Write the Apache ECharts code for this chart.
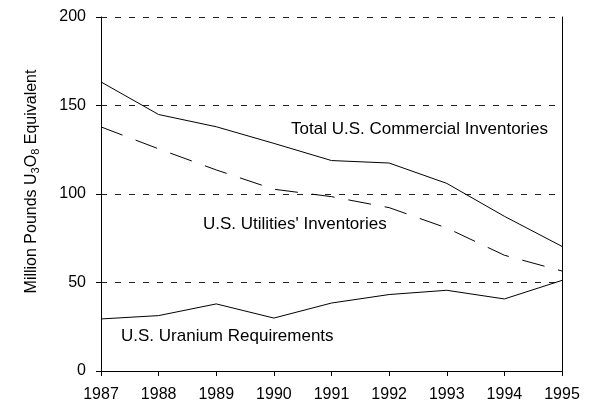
<!DOCTYPE html>
<html>
  <head>
    <meta charset="UTF-8">
    <title>Uranium inventories</title>
    <script src="https://cdn.jsdelivr.net/npm/echarts@6/dist/echarts.min.js"></script>
    <style>
      html, body { margin: 0; padding: 0; background: #fff; }
    </style>
  </head>
  <body>
    <div id="myChart" style="width: 589px;height:401px;"></div>
    <script type="text/javascript">
    var years = ['1987', '1988', '1989', '1990', '1991', '1992', '1993', '1994', '1995'];
    var totalInv = [163.3, 144.9, 138, 128.6, 118.9, 117.5, 106, 87.4, 70.4];
    var utilInv = [137.9, 125.5, 113.6, 102.7, 98.5, 92.3, 80.8, 65.4, 56.5];
    var requirements = [29.4, 31.3, 37.9, 29.9, 38.4, 43.2, 45.6, 40.7, 51.2];
    var yTicks = [0, 50, 100, 150, 200];

    var FONT = 'Arial, "Liberation Sans", sans-serif';
    var myChart = echarts.init(document.getElementById('myChart'));

    var option = {
      animation: false,
      backgroundColor: '#fff',
      grid: { left: 101, right: 27, top: 17, bottom: 30, outerBoundsMode: 'none', containLabel: false },
      xAxis: {
        type: 'category',
        data: years,
        boundaryGap: false,
        axisLine: { lineStyle: { color: '#000', width: 1 } },
        axisTick: { alignWithLabel: true, length: 5, lineStyle: { color: '#000' } },
        axisLabel: { color: '#000', fontSize: 16, fontFamily: FONT, margin: 16 },
        splitLine: { show: false }
      },
      yAxis: [{
        type: 'value',
        min: yTicks[0],
        max: yTicks[yTicks.length - 1],
        interval: 50,
        axisLine: { show: true, lineStyle: { color: '#000', width: 1 } },
        axisTick: { show: true, length: 5, lineStyle: { color: '#000' } },
        axisLabel: { color: '#000', fontSize: 16, fontFamily: FONT, margin: 15 },
        splitLine: { show: true, lineStyle: { color: '#222', type: [6, 8], width: 1 } }
      }, {
        type: 'value',
        position: 'right',
        min: yTicks[0],
        max: yTicks[yTicks.length - 1],
        interval: 50,
        axisLine: { show: true, lineStyle: { color: '#000', width: 1 } },
        axisTick: { show: false },
        axisLabel: { show: false },
        splitLine: { show: false }
      }],
      series: [{
        name: 'Total U.S. Commercial Inventories',
        type: 'line',
        data: totalInv,
        symbol: 'none',
        lineStyle: { color: '#000', width: 1 }
      }, {
        name: "U.S. Utilities' Inventories",
        type: 'line',
        data: utilInv,
        symbol: 'none',
        lineStyle: { color: '#000', width: 1, type: [23, 14] }
      }, {
        name: 'U.S. Uranium Requirements',
        type: 'line',
        data: requirements,
        symbol: 'none',
        lineStyle: { color: '#000', width: 1 }
      }],
      graphic: [{
        type: 'text',
        x: 291, y: 129.5,
        style: { text: 'Total U.S. Commercial Inventories', font: '17px ' + FONT, fill: '#000', verticalAlign: 'middle' }
      }, {
        type: 'text',
        x: 203, y: 224,
        style: { text: "U.S. Utilities' Inventories", font: '17px ' + FONT, fill: '#000', verticalAlign: 'middle' }
      }, {
        type: 'text',
        x: 121, y: 336,
        style: { text: 'U.S. Uranium Requirements', font: '17px ' + FONT, fill: '#000', verticalAlign: 'middle' }
      }, {
        type: 'text',
        x: 31.5, y: 181.5,
        rotation: Math.PI / 2,
        style: {
          text: '{n|Million Pounds U}{s|3}{n|O}{s|8}{n| Equivalent}',
          align: 'center',
          verticalAlign: 'middle',
          rich: {
            n: { fontSize: 16, fontFamily: FONT, fill: '#000', lineHeight: 20 },
            s: { fontSize: 11, fontFamily: FONT, fill: '#000', lineHeight: 12, verticalAlign: 'bottom' }
          }
        }
      }]
    };
    myChart.setOption(option);
    </script>
  </body>
</html>
